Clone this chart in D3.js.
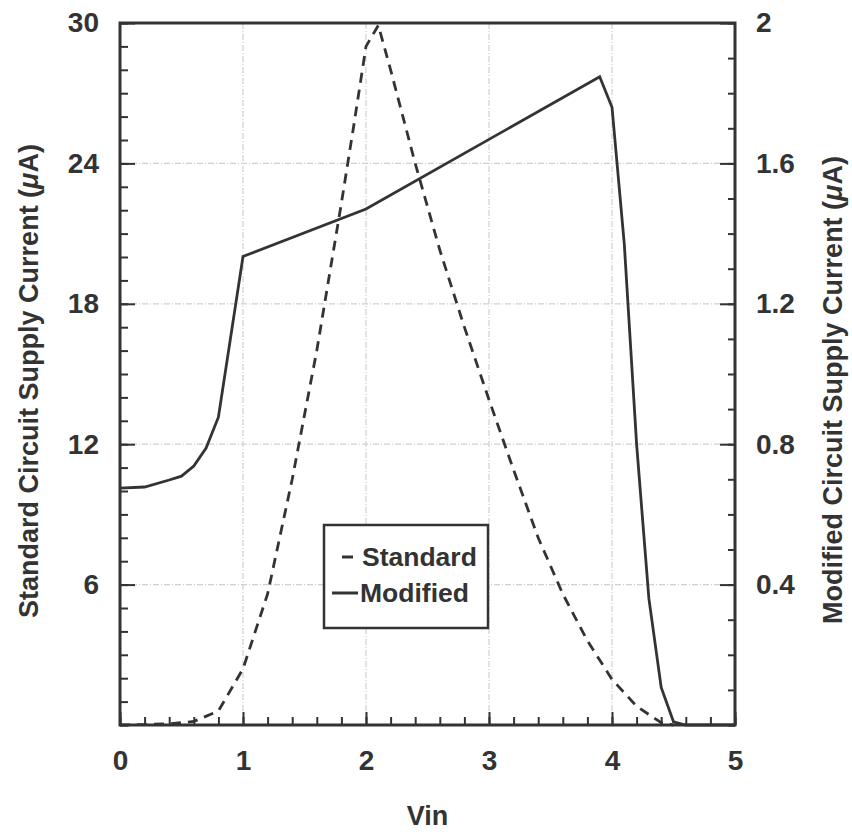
<!DOCTYPE html>
<html>
<head>
<meta charset="utf-8">
<script src="https://cdn.jsdelivr.net/npm/d3@7"></script>
<style>
  body { margin: 0; background: #fff; }
  svg text { font-family: "Liberation Sans", Arial, Helvetica, sans-serif; fill: #333; }
</style>
</head>
<body>
<div id="chart"></div>
<script>
// chart data
const vin_standard = [0, 0.2, 0.4, 0.6, 0.8, 1.0, 1.2, 1.4, 1.6, 1.8, 1.9, 2.0, 2.1, 2.2, 2.4, 2.6, 2.8, 3.0, 3.2, 3.4, 3.6, 3.8, 4.0, 4.2, 4.4, 4.5];
const standard_uA = [0, 0.02, 0.05, 0.15, 0.6, 2.4, 5.6, 10.5, 16.0, 22.3, 25.6, 29.0, 29.9, 28.0, 24.0, 20.3, 17.0, 13.9, 10.9, 8.0, 5.6, 3.6, 1.95, 0.8, 0.1, 0];

const vin_modified = [0, 0.2, 0.4, 0.5, 0.6, 0.7, 0.8, 1.0, 2.0, 3.9, 4.0, 4.1, 4.2, 4.3, 4.4, 4.5, 4.6, 5.0];
const modified_uA = [0.675, 0.678, 0.698, 0.709, 0.738, 0.789, 0.877, 1.335, 1.47, 1.847, 1.76, 1.37, 0.8, 0.36, 0.107, 0.009, 0, 0];

const x_ticks = [0, 1, 2, 3, 4, 5];
const left_ticks = [6, 12, 18, 24, 30];
const right_ticks = [0.4, 0.8, 1.2, 1.6, 2];
const legend_labels = ["Standard", "Modified"];

// Declare constants
const FRAME_WIDTH = 852;
const FRAME_HEIGHT = 832;
const MARGINS = {left: 120, right: 117, top: 23, bottom: 107};
const VIS_WIDTH = FRAME_WIDTH - MARGINS.left - MARGINS.right;
const VIS_HEIGHT = FRAME_HEIGHT - MARGINS.top - MARGINS.bottom;
const INK = "#333";

const svg = d3.select("#chart")
  .append("svg")
    .attr("width", FRAME_WIDTH)
    .attr("height", FRAME_HEIGHT);

const g = svg.append("g")
  .attr("transform", "translate(" + MARGINS.left + "," + MARGINS.top + ")");

// scales
const X_SCALE = d3.scaleLinear().domain([0, 5]).range([0, VIS_WIDTH]);
const Y_LEFT = d3.scaleLinear().domain([0, 30]).range([VIS_HEIGHT, 0]);
const Y_RIGHT = d3.scaleLinear().domain([0, 2]).range([VIS_HEIGHT, 0]);

// gridlines (light, dotted)
g.append("g")
  .selectAll("line")
  .data([1, 2, 3, 4])
  .enter().append("line")
    .attr("x1", d => X_SCALE(d)).attr("x2", d => X_SCALE(d))
    .attr("y1", 0).attr("y2", VIS_HEIGHT)
    .attr("stroke", "#d0d0d0").attr("stroke-width", 1.2)
    .attr("stroke-dasharray", "6,2,1,2");
g.append("g")
  .selectAll("line")
  .data(left_ticks.filter(d => d < 30))
  .enter().append("line")
    .attr("x1", 0).attr("x2", VIS_WIDTH)
    .attr("y1", d => Y_LEFT(d)).attr("y2", d => Y_LEFT(d))
    .attr("stroke", "#d0d0d0").attr("stroke-width", 1.2)
    .attr("stroke-dasharray", "6,2,1,2");

// axes helper: style ticks and labels
function styleAxis(sel, fontSize) {
  sel.select(".domain").remove();
  sel.selectAll(".tick line").attr("stroke", INK).attr("stroke-width", 2);
  sel.selectAll(".tick text")
    .attr("font-size", fontSize)
    .attr("font-weight", "bold")
    .style("fill", INK);
}

// minor ticks
g.append("g")
  .attr("transform", "translate(0," + VIS_HEIGHT + ")")
  .call(d3.axisBottom(X_SCALE).tickValues(d3.range(0, 5.01, 0.2)).tickSize(-8).tickFormat(""))
  .call(s => styleAxis(s, 26));
g.append("g")
  .call(d3.axisLeft(Y_LEFT).tickValues(d3.range(0, 30.1, 1)).tickSize(-8).tickFormat(""))
  .call(s => styleAxis(s, 26));
g.append("g")
  .attr("transform", "translate(" + VIS_WIDTH + ",0)")
  .call(d3.axisRight(Y_RIGHT).tickValues(d3.range(0, 2.01, 0.1)).tickSize(-7).tickFormat(""))
  .call(s => styleAxis(s, 26));

// major ticks with labels
g.append("g")
  .attr("transform", "translate(0," + VIS_HEIGHT + ")")
  .call(d3.axisBottom(X_SCALE).tickValues(x_ticks).tickSize(-13).tickPadding(25).tickFormat(d3.format("d")))
  .call(s => styleAxis(s, 28));
g.append("g")
  .call(d3.axisLeft(Y_LEFT).tickValues(left_ticks).tickSize(-15).tickPadding(21).tickFormat(d3.format("d")))
  .call(s => styleAxis(s, 28));
g.append("g")
  .attr("transform", "translate(" + VIS_WIDTH + ",0)")
  .call(d3.axisRight(Y_RIGHT).tickValues(right_ticks).tickSize(-15).tickPadding(21).tickFormat(d => d === 2 ? "2" : d3.format(".1f")(d)))
  .call(s => styleAxis(s, 28));

// frame
g.append("rect")
  .attr("x", 0).attr("y", 0)
  .attr("width", VIS_WIDTH).attr("height", VIS_HEIGHT)
  .attr("fill", "none").attr("stroke", INK).attr("stroke-width", 3);

// lines
const standardData = vin_standard.map((v, i) => ({x: v, y: standard_uA[i]}));
const modifiedData = vin_modified.map((v, i) => ({x: v, y: modified_uA[i]}));

g.append("path")
  .datum(standardData)
  .attr("fill", "none").attr("stroke", INK).attr("stroke-width", 2.8)
  .attr("stroke-dasharray", "10,7")
  .attr("d", d3.line().x(d => X_SCALE(d.x)).y(d => Y_LEFT(d.y)));

g.append("path")
  .datum(modifiedData)
  .attr("fill", "none").attr("stroke", INK).attr("stroke-width", 2.8)
  .attr("stroke-linejoin", "miter")
  .attr("d", d3.line().x(d => X_SCALE(d.x)).y(d => Y_RIGHT(d.y)));

// legend
const legend = svg.append("g");
legend.append("rect")
  .attr("x", 324).attr("y", 525).attr("width", 164).attr("height", 103)
  .attr("fill", "#fff").attr("stroke", INK).attr("stroke-width", 2.5);
legend.append("line")
  .attr("x1", 342).attr("x2", 353).attr("y1", 557).attr("y2", 557)
  .attr("stroke", INK).attr("stroke-width", 3);
legend.append("line")
  .attr("x1", 332).attr("x2", 358).attr("y1", 593).attr("y2", 593)
  .attr("stroke", INK).attr("stroke-width", 3);
legend.selectAll("text.lbl")
  .data(legend_labels)
  .enter().append("text")
    .attr("class", "lbl")
    .attr("x", (d, i) => i === 0 ? 362 : 360)
    .attr("y", (d, i) => 566 + i * 36)
    .attr("font-size", 26.5)
    .attr("font-weight", "bold")
    .text(d => d);

// axis titles
svg.append("text")
  .attr("transform", "translate(38,381) rotate(-90)")
  .attr("text-anchor", "middle")
  .attr("font-size", 27)
  .attr("font-weight", "bold")
  .html('Standard Circuit Supply Current (<tspan font-style="italic">μ</tspan>A)');

svg.append("text")
  .attr("transform", "translate(842,390) rotate(-90)")
  .attr("text-anchor", "middle")
  .attr("font-size", 27)
  .attr("font-weight", "bold")
  .html('Modified Circuit Supply Current (<tspan font-style="italic">μ</tspan>A)');

svg.append("text")
  .attr("x", MARGINS.left + VIS_WIDTH / 2)
  .attr("y", 825)
  .attr("text-anchor", "middle")
  .attr("font-size", 27)
  .attr("font-weight", "bold")
  .text("Vin");
</script>
</body>
</html>
